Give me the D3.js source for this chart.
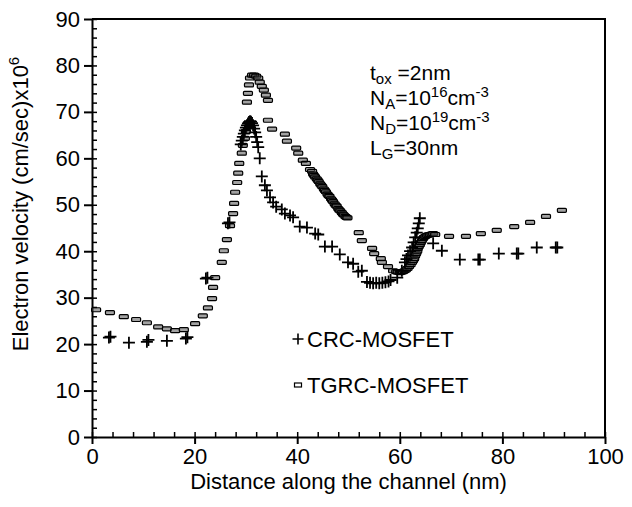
<!DOCTYPE html>
<html lang="en">
<head>
<meta charset="UTF-8" />
<title>Electron velocity along the channel</title>
<script src="https://d3js.org/d3.v7.min.js"></script>
<style>
  body { margin: 0; background: #fff; }
  svg { display: block; font-family: "Liberation Sans", Arial, sans-serif; }
</style>
</head>
<body>
<div id="chart"></div>
<script>
// Readings from the figure: [distance (nm), velocity (x10^6 cm/s)]
var tgrcPoints = [
  [0.8,27.4],[3.5,26.8],[6.2,25.9],[8.6,25.3],[10.7,24.6],[12.9,23.7],[14.6,23.3],[16.2,22.9],
  [17.9,23.1],[20.1,24.4],[21.6,26.1],[22.6,27.8],[23.4,29.8],[23.6,32.2],[24.0,34.3],[25.3,37.6],
  [25.7,40.1],[26.3,42.5],[26.9,45.5],[27.5,48.1],[27.7,50.3],[27.9,52.7],[28.3,54.8],[28.5,56.8],
  [28.7,58.9],[29.2,61.1],[29.4,62.8],[29.8,64.3],[30.0,65.8],[30.2,72.1],[30.4,74.0],[30.6,75.8],
  [30.8,77.3],[31.2,77.9],[31.6,77.9],[32.0,77.7],[32.4,77.3],[32.7,76.4],[33.1,75.5],[33.5,74.7],
  [33.9,73.6],[34.3,72.5],[34.3,68.2],[35.1,66.3],[37.6,65.2],[38.0,63.7],[39.8,62.2],[40.2,61.1],
  [41.1,59.6],[41.7,58.9],[42.5,57.6],[42.9,57.2],
  [43.1,56.6],[43.3,56.3],[43.5,56.0],[43.8,55.6],[44.0,55.3],[44.2,55.0],[44.5,54.5],[44.7,54.2],
  [44.9,53.9],[45.2,53.4],[45.4,53.1],[45.6,52.8],[45.9,52.3],[46.1,52.0],[46.3,51.8],[46.6,51.3],
  [46.8,51.0],[47.0,50.7],[47.3,50.2],[47.5,49.9],[47.7,49.7],[48.0,49.2],[48.2,48.9],[48.4,48.7],
  [48.7,48.3],[48.9,48.0],[49.1,47.8],[49.4,47.5],[49.6,47.3],[49.8,47.2],
  [52.0,44.0],[52.6,42.3],[54.6,40.6],[55.0,39.5],[56.3,38.4],[56.5,37.6],[57.7,36.7],
  [58.7,35.8],[59.3,35.6],[59.6,35.5],[60.0,35.4],[60.3,35.5],[60.6,35.6],[60.9,35.8],[61.2,36.0],
  [61.5,36.3],[61.8,36.7],[62.1,37.1],[62.4,37.6],[62.6,38.0],[62.8,38.4],[63.0,39.0],[63.2,39.5],
  [63.4,40.0],[63.5,40.6],[63.7,41.0],[63.9,41.4],[64.1,41.9],[64.3,42.3],[64.5,42.7],[64.7,43.0],
  [65.0,43.2],[65.3,43.4],[65.6,43.5],[65.9,43.6],[66.2,43.7],[66.5,43.8],[66.9,43.6],
  [69.6,43.2],[72.9,43.2],[75.8,43.8],[78.9,44.5],[82.3,45.3],[85.4,46.2],[88.5,47.5],[91.6,48.8]
];

var crcPoints = [
  [3.3,21.4],[3.6,21.6],[7.2,20.3],[10.7,20.5],[11.0,20.9],[14.6,20.7],[18.3,21.2],[18.6,21.5],
  [22.2,34.1],[22.5,34.3],[26.5,46.0],[26.8,46.2],
  [29.0,63.0],[29.2,63.8],[29.4,64.6],[29.6,65.3],[29.8,66.0],[30.0,66.6],[30.2,67.1],[30.4,67.5],
  [30.6,67.8],[30.8,68.0],[31.0,67.9],[31.2,67.6],[31.4,67.1],[31.6,66.4],[31.8,65.6],[32.0,64.6],
  [32.2,63.5],[32.4,62.4],[32.7,60.0],[33.1,56.1],[33.7,54.2],[34.1,53.1],[34.7,51.6],[35.3,50.5],
  [35.9,49.6],[37.0,49.0],[37.6,48.1],[38.6,47.7],[39.2,47.3],[40.5,45.3],[41.9,45.1],[43.5,43.8],
  [44.1,43.6],[45.4,41.0],[46.8,41.0],[48.3,39.3],[49.9,37.6],[50.9,37.3],[51.9,35.6],[52.6,35.8],
  [53.6,33.4],[54.2,33.2],[54.8,33.1],[55.4,33.2],[56.0,33.1],[56.6,33.2],[57.2,33.3],[57.8,33.5],
  [58.2,33.8],[59.5,34.3],[60.4,35.8],[61.0,37.6],[61.3,38.3],[61.6,39.1],[62.0,40.0],[62.4,40.8],
  [62.7,41.9],[63.0,43.0],[63.3,44.0],[63.5,44.9],[63.7,46.0],[63.9,47.1],
  [66.5,41.7],[68.2,40.1],[71.7,38.2],[75.3,38.2],[75.6,38.2],[79.3,39.5],[82.8,39.5],[83.1,39.5],
  [86.7,40.8],[90.4,40.8],[90.7,40.8]
];

var xTicks = [0, 20, 40, 60, 80, 100];
var yTicks = [0, 10, 20, 30, 40, 50, 60, 70, 80, 90];
var legendNames = ["CRC-MOSFET", "TGRC-MOSFET"];

var width = 632, height = 507;
var margin = { left: 92, right: 27, top: 19, bottom: 70 };

var svg = d3.select("#chart").append("svg")
    .attr("width", width)
    .attr("height", height);

svg.append("rect").attr("width", width).attr("height", height).attr("fill", "#fff");

var x = d3.scaleLinear().domain([0, 100]).range([margin.left, width - margin.right]);
var y = d3.scaleLinear().domain([0, 90]).range([height - margin.bottom, margin.top]);

// frame: top and right edges
svg.append("path")
    .attr("d", "M" + x(0) + "," + y(90) + "H" + x(100) + "V" + y(0))
    .attr("fill", "none")
    .attr("stroke", "#000")
    .attr("stroke-width", 2);

// minor ticks, pointing inside
svg.append("g")
    .attr("transform", "translate(0," + y(0) + ")")
    .call(d3.axisBottom(x).tickValues(d3.range(0, 101, 4)).tickSize(-5).tickFormat(""))
    .call(function(g) { g.select(".domain").remove(); g.selectAll("line").attr("stroke-width", 1.5); });
svg.append("g")
    .attr("transform", "translate(" + x(0) + ",0)")
    .call(d3.axisLeft(y).tickValues(d3.range(0, 91, 2)).tickSize(-5).tickFormat(""))
    .call(function(g) { g.select(".domain").remove(); g.selectAll("line").attr("stroke-width", 1.5); });

// major ticks and labels
var xAxis = svg.append("g")
    .attr("transform", "translate(0," + y(0) + ")")
    .call(d3.axisBottom(x).tickValues(xTicks).tickSizeInner(7).tickSizeOuter(0).tickPadding(4));
var yAxis = svg.append("g")
    .attr("transform", "translate(" + x(0) + ",0)")
    .call(d3.axisLeft(y).tickValues(yTicks).tickSizeInner(8).tickSizeOuter(0).tickPadding(4));

[xAxis, yAxis].forEach(function(g) {
    g.select(".domain").attr("stroke-width", 2);
    g.selectAll(".tick line").attr("stroke-width", 2);
    g.selectAll("text")
        .attr("font-family", "Liberation Sans, Arial, sans-serif")
        .attr("font-size", 22)
        .attr("fill", "#000");
});

// axis titles
svg.append("text")
    .attr("x", (x(0) + x(100)) / 2)
    .attr("y", 489)
    .attr("text-anchor", "middle")
    .attr("font-size", 22)
    .text("Distance along the channel (nm)");

var yTitle = svg.append("text")
    .attr("transform", "translate(28,204) rotate(-90)")
    .attr("text-anchor", "middle")
    .attr("font-size", 22);
yTitle.append("tspan").text("Electron velocity (cm/sec)x10");
yTitle.append("tspan").attr("font-size", 15).attr("dy", -9).text("6");

// markers
function plusPath(s) {
    return "M" + (-s) + ",0H" + s + "M0," + (-s) + "V" + s;
}

svg.append("g").selectAll("rect")
    .data(tgrcPoints)
    .enter().append("rect")
    .attr("x", function(d) { return x(d[0]) - 4.5; })
    .attr("y", function(d) { return y(d[1]) - 2; })
    .attr("width", 9)
    .attr("height", 4)
    .attr("rx", 1)
    .attr("fill", "#555")
    .attr("fill-opacity", 0.55)
    .attr("stroke", "#000")
    .attr("stroke-width", 1.2);

svg.append("g").selectAll("path")
    .data(crcPoints)
    .enter().append("path")
    .attr("transform", function(d) { return "translate(" + x(d[0]) + "," + y(d[1]) + ")"; })
    .attr("d", plusPath(6))
    .attr("stroke", "#000")
    .attr("stroke-width", 1.8)
    .attr("fill", "none");

// legend
var legend = svg.append("g");
legend.append("path")
    .attr("transform", "translate(298,339)")
    .attr("d", plusPath(5.5))
    .attr("stroke", "#000")
    .attr("stroke-width", 1.6);
legend.append("rect")
    .attr("x", 294.5).attr("y", 383)
    .attr("width", 7).attr("height", 4)
    .attr("fill", "#fff")
    .attr("stroke", "#000")
    .attr("stroke-width", 1.2);
legend.selectAll("text.lg")
    .data(legendNames)
    .enter().append("text")
    .attr("class", "lg")
    .attr("x", 307)
    .attr("y", function(d, i) { return 347 + i * 46; })
    .attr("font-size", 22)
    .text(function(d) { return d; });

// device parameters
var note = svg.append("g").attr("font-size", 21);
function paramLine(parts, yPos) {
    var txt = note.append("text").attr("x", 370).attr("y", yPos);
    parts.forEach(function(p) {
        var sp = txt.append("tspan").text(p.t);
        if (p.sub) sp.attr("font-size", 15).attr("dy", 4);
        if (p.sup) sp.attr("font-size", 15).attr("dy", -8);
        if (p.back) sp.attr("dy", p.back);
    });
}
paramLine([{t: "t"}, {t: "ox", sub: true}, {t: " =2nm", back: -4}], 80);
paramLine([{t: "N"}, {t: "A", sub: true}, {t: "=10", back: -4}, {t: "16", sup: true}, {t: "cm", back: 8}, {t: "-3", sup: true}], 105);
paramLine([{t: "N"}, {t: "D", sub: true}, {t: "=10", back: -4}, {t: "19", sup: true}, {t: "cm", back: 8}, {t: "-3", sup: true}], 130);
paramLine([{t: "L"}, {t: "G", sub: true}, {t: "=30nm", back: -4}], 155);
</script>
</body>
</html>
